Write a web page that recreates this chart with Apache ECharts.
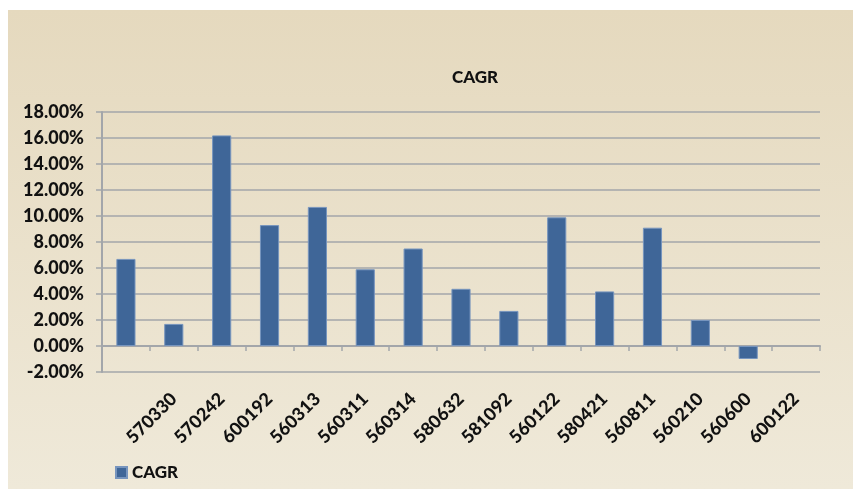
<!DOCTYPE html>
<html>
<head>
<meta charset="utf-8">
<style>
  html, body { margin: 0; padding: 0; background: #ffffff; }
  #chart { width: 853px; height: 489px; }
</style>
<script src="https://cdn.jsdelivr.net/npm/echarts@6/dist/echarts.min.js"></script>
</head>
<body>
<div id="chart"></div>
<script>
// Fund codes along the category axis (first slot carries no label)
const categories = ['', '570330', '570242', '600192', '560313', '560311', '560314',
  '580632', '581092', '560122', '580421', '560811', '560210', '560600', '600122'];
// Compound annual growth rate, in percent
const cagr = [6.7, 1.7, 16.2, 9.3, 10.7, 5.9, 7.5, 4.4, 2.7, 9.9, 4.2, 9.1, 2.0, -1.0, null];
// Value axis range and step, in percent
const yMin = -2, yMax = 18, yStep = 2;

const font = 'Lato, "Liberation Sans", sans-serif';
const textStyle = { fontFamily: font, fontWeight: 900, fontSize: 18, color: '#111111' };
const chart = echarts.init(document.getElementById('chart'), null, { renderer: 'canvas' });

chart.setOption({
  animation: false,
  backgroundColor: '#ffffff',
  graphic: [{
    type: 'rect',
    z: -10,
    silent: true,
    shape: { x: 8, y: 10, width: 845, height: 479 },
    style: {
      fill: new echarts.graphic.LinearGradient(0, 0, 0, 1, [
        { offset: 0, color: '#E5D9BE' },
        { offset: 1, color: '#EFE9D9' }
      ])
    }
  }],
  title: {
    text: 'CAGR',
    left: 447,
    top: 64,
    textStyle: Object.assign({}, textStyle, { fontSize: 17 })
  },
  legend: {
    left: 110,
    top: 459,
    icon: 'rect',
    itemWidth: 11,
    itemHeight: 11,
    textStyle: Object.assign({}, textStyle, { fontSize: 17 }),
    data: ['CAGR']
  },
  grid: { left: 102, right: 33, top: 112, bottom: 117, containLabel: false },
  xAxis: {
    type: 'category',
    data: categories,
    axisLine: { onZero: true, lineStyle: { color: '#A3A6AA', width: 2 } },
    axisTick: { show: true, length: 5, alignWithLabel: false, lineStyle: { color: '#A3A6AA', width: 1.5 } },
    axisLabel: Object.assign({ interval: 0, rotate: 45, margin: 24 }, textStyle),
    splitLine: { show: false }
  },
  yAxis: {
    type: 'value',
    min: yMin,
    max: yMax,
    interval: yStep,
    axisLine: { show: true, lineStyle: { color: '#A3A6AA', width: 2 } },
    axisTick: { show: true, length: 6, lineStyle: { color: '#A3A6AA', width: 1.5 } },
    axisLabel: Object.assign({ margin: 18, formatter: v => v.toFixed(2) + '%' }, textStyle),
    splitLine: { show: true, lineStyle: { color: '#A3A6AA', width: 1.5 } }
  },
  series: [{
    name: 'CAGR',
    type: 'bar',
    data: cagr,
    barWidth: '40%',
    itemStyle: { color: '#3F6698', borderColor: '#7795BE', borderWidth: 1 }
  }]
});
</script>
</body>
</html>
